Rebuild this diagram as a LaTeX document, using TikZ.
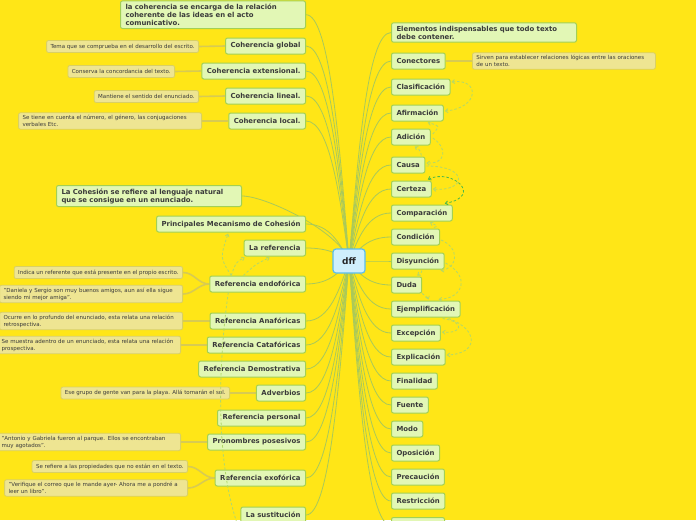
\documentclass[tikz,border=0pt]{standalone}
\usepackage{fontspec}
\setmainfont{DejaVu Sans}
\usetikzlibrary{calc,arrows.meta}
\pgfdeclarelayer{bgl}\pgfdeclarelayer{edl}
\pgfsetlayers{bgl,edl,main}
\definecolor{bgy}{HTML}{FFE617}
\definecolor{nfill}{HTML}{E2F7B5}
\definecolor{nbord}{HTML}{A3D054}
\definecolor{notefill}{HTML}{EEE592}
\definecolor{notebord}{HTML}{D9D064}
\definecolor{edgec}{HTML}{A9C95A}
\definecolor{noteedge}{HTML}{D8CB52}
\definecolor{txt}{HTML}{3A3A3A}
\definecolor{dfill}{HTML}{CFEFFC}
\definecolor{dbord}{HTML}{5BBDEB}
\definecolor{dashA}{HTML}{B2D86A}
\definecolor{dashB}{HTML}{4DB848}
\tikzset{
  mnode/.style={draw=nbord, fill=nfill, line width=1pt, rounded corners=2pt, text=txt,
    font=\fontsize{6.9}{8}\selectfont\bfseries, inner xsep=5pt, inner ysep=3pt, minimum height=16pt, align=left},
  wide/.style={text width=175pt},
  notebox/.style={draw=notebord, fill=notefill, line width=0.8pt, rounded corners=2pt, text=txt,
    font=\fontsize{5.5}{7}\selectfont, inner xsep=4pt, inner ysep=2.5pt, minimum height=12pt, align=left},
  conn/.style={draw=edgec, line width=0.8pt},
  nconn/.style={draw=noteedge, line width=1.6pt},
  dsh/.style={draw=dashA, line width=0.8pt, dash pattern=on 2.5pt off 2pt, -{Straight Barb[length=2.5pt,width=4pt]}},
  dshB/.style={draw=dashB, line width=0.8pt, dash pattern=on 2.5pt off 2pt, {Straight Barb[length=2.5pt,width=4pt]}-{Straight Barb[length=2.5pt,width=4pt]}},
}
\newcommand\lconn[1]{\draw[conn] (#1.east) .. controls +(24,0) and ($(dff.center |- #1.east)!0.55!(dff.center)+(-9,0)$) .. (dff.center);}
\newcommand\rconn[1]{\draw[conn] (#1.west) .. controls +(-24,0) and ($(dff.center |- #1.west)!0.55!(dff.center)+(9,0)$) .. (dff.center);}
\begin{document}
\begin{tikzpicture}[x=1pt,y=-1pt]
\begin{pgfonlayer}{bgl}
\fill[bgy] (0,0) rectangle (696,520);
\end{pgfonlayer}
\useasboundingbox (0,0) rectangle (696,520);

% central
\node[draw=dbord, fill=dfill, line width=1.2pt, rounded corners=3pt, minimum width=32pt, minimum height=24pt,
  font=\fontsize{9}{10}\selectfont\bfseries, text=black!85] (dff) at (349,261) {dff};

% left main nodes
\node[mnode, wide, anchor=south east] (coh) at (306,29) {la coherencia se encarga de la relación\\coherente de las ideas en el acto\\comunicativo.};
\node[mnode, anchor=east] (cg) at (306,46) {Coherencia global};
\node[mnode, anchor=east] (ce) at (306,71) {Coherencia extensional.};
\node[mnode, anchor=east] (cl) at (306,96) {Coherencia lineal.};
\node[mnode, anchor=east] (cloc) at (306,121) {Coherencia local.};
\node[mnode, wide, anchor=east] (cohes) at (242,196) {La Cohesión se refiere al lenguaje natural\\que se consigue en un enunciado.};
\node[mnode, anchor=east] (pmc) at (306,224) {Principales Mecanismo de Cohesión};
\node[mnode, anchor=east] (lref) at (306,248) {La referencia};
\node[mnode, anchor=east] (endo) at (306,284) {Referencia endofórica};
\node[mnode, anchor=east] (ana) at (306,321) {Referencia Anafóricas};
\node[mnode, anchor=east] (cata) at (306,345) {Referencia Catafóricas};
\node[mnode, anchor=east] (demo) at (306,369) {Referencia Demostrativa};
\node[mnode, anchor=east] (adv) at (306,393) {Adverbios};
\node[mnode, anchor=east] (pers) at (306,418) {Referencia personal};
\node[mnode, anchor=east] (pos) at (306,442) {Pronombres posesivos};
\node[mnode, anchor=east] (exo) at (306,478) {Referencia exofórica};
\node[mnode, anchor=east] (sust) at (306,515) {La sustitución};

% left notes
\node[notebox, anchor=east] (n1) at (199,46.5) {Tema que se comprueba en el desarrollo del escrito.};
\node[notebox, anchor=east] (n2) at (175,71.5) {Conserva la concordancia del texto.};
\node[notebox, anchor=east] (n3) at (199,96.5) {Mantiene el sentido del enunciado.};
\node[notebox, wide, anchor=east] (n4) at (202,121) {Se tiene en cuenta el número, el género, las conjugaciones\\verbales Etc.};
\node[notebox, anchor=east] (n5) at (183,272.5) {Indica un referente que está presente en el propio escrito.};
\node[notebox, wide, anchor=east] (n6) at (183,294) {"Daniela y Sergio son muy buenos amigos, aun así ella sigue\\siendo mi mejor amiga".};
\node[notebox, wide, anchor=east] (n7) at (183,321) {Ocurre en lo profundo del enunciado, esta relata una relación\\retrospectiva.};
\node[notebox, wide, anchor=east] (n8) at (181,345) {Se muestra adentro de un enunciado, esta relata una relación\\prospectiva.};
\node[notebox, anchor=east] (n9) at (230,393) {Ese grupo de gente van para la playa. Allá tomarán el sol.};
\node[notebox, wide, anchor=east] (n10) at (181,442) {"Antonio y Gabriela fueron al parque. Ellos se encontraban\\muy agotados".};
\node[notebox, anchor=east] (n11) at (188,466.5) {Se refiere a las propiedades que no están en el texto.};
\node[notebox, wide, anchor=east] (n12) at (188,488) {"Verifique el correo que le mande ayer- Ahora me a pondré a\\leer un libro".};

% right nodes
\node[mnode, wide, anchor=west] (elem) at (391,32.5) {Elementos indispensables que todo texto\\debe contener.};
\node[mnode, anchor=west] (conec) at (391,61) {Conectores};
\node[mnode, anchor=west] (clas) at (391,87) {Clasificación};
\node[mnode, anchor=west] (afir) at (391,113) {Afirmación};
\node[mnode, anchor=west] (adic) at (391,137) {Adición};
\node[mnode, anchor=west] (causa) at (391,165) {Causa};
\node[mnode, anchor=west] (cert) at (391,189) {Certeza};
\node[mnode, anchor=west] (comp) at (391,213) {Comparación};
\node[mnode, anchor=west] (cond) at (391,237) {Condición};
\node[mnode, anchor=west] (disy) at (391,261) {Disyunción};
\node[mnode, anchor=west] (duda) at (391,285) {Duda};
\node[mnode, anchor=west] (ejem) at (391,309) {Ejemplificación};
\node[mnode, anchor=west] (excep) at (391,333) {Excepción};
\node[mnode, anchor=west] (expl) at (391,357) {Explicación};
\node[mnode, anchor=west] (fin) at (391,381) {Finalidad};
\node[mnode, anchor=west] (fue) at (391,405) {Fuente};
\node[mnode, anchor=west] (modo) at (391,429) {Modo};
\node[mnode, anchor=west] (opo) at (391,453) {Oposición};
\node[mnode, anchor=west] (prec) at (391,477) {Precaución};
\node[mnode, anchor=west] (rest) at (391,501) {Restricción};
\node[mnode, anchor=north west, minimum width=53pt] (extra) at (391,517) {};
\node[notebox, wide, anchor=west] (nr1) at (472,61) {Sirven para establecer relaciones lógicas entre las oraciones\\de un texto.};

\begin{pgfonlayer}{edl}
\foreach \n in {coh,cg,ce,cl,cloc,cohes,pmc,lref,endo,ana,cata,demo,adv,pers,pos,exo,sust} {\lconn{\n}}
\foreach \n in {elem,conec,clas,afir,adic,causa,cert,comp,cond,disy,duda,ejem,excep,expl,fin,fue,modo,opo,prec,rest,extra} {\rconn{\n}}
% note connectors
\draw[nconn] (n1.east) -- (cg.west);
\draw[nconn] (n2.east) -- (ce.west);
\draw[nconn] (n3.east) -- (cl.west);
\draw[nconn] (n4.east) -- (cloc.west);
\draw[nconn] (n5.east) to[out=0,in=180] (endo.west);
\draw[nconn] (n6.east) to[out=0,in=180] (endo.west);
\draw[nconn] (n7.east) -- (ana.west);
\draw[nconn] (n8.east) -- (cata.west);
\draw[nconn] (n9.east) -- (adv.west);
\draw[nconn] (n10.east) -- (pos.west);
\draw[nconn] (n11.east) to[out=0,in=180] (exo.west);
\draw[nconn] (n12.east) to[out=0,in=180] (exo.west);
\draw[nconn] (conec.east) -- (nr1.west);
\end{pgfonlayer}

% dashed relations left
\coordinate (e1) at ($(endo.north west)+(22,0)$);
\coordinate (e2) at ($(endo.north west)+(34,0)$);
\coordinate (e3) at ($(endo.south west)+(19,0)$);
\coordinate (eend) at (238,526);
\draw[dsh] (e1) .. controls (220,258) .. ($(pmc.south west)+(72,1)$);
\draw[dsh] (e1) .. controls (236,262) .. ($(lref.south west)+(1,1)$);
\draw[dsh] (e2) .. controls (256,264) .. ($(lref.south west)+(26,1)$);
\draw[dsh, -] (e3) .. controls (216,380) and (218,470) .. (eend);

% dashed relations right
\draw[dsh, {Straight Barb[length=2.5pt,width=4pt]}-{Straight Barb[length=2.5pt,width=4pt]}] ($(clas.east)+(1,-5)$) .. controls (480,78) and (480,108) .. ($(afir.east)+(1,-2)$);
\draw[dsh] ($(adic.east)+(2,-3)$) .. controls (440,126) .. ($(afir.south east)+(-16,1)$);
\draw[dsh] ($(adic.east)+(2,1)$) .. controls (448,148) and (446,164) .. ($(causa.east)+(1,-2)$);
\draw[dsh] ($(causa.north east)+(-4,-1)$) .. controls (420,150) .. ($(adic.south east)+(-16,1)$);
\draw[dsh] ($(causa.east)+(1,1)$) .. controls (470,166) and (466,192) .. ($(cert.east)+(1,0)$);
\draw[dshB] ($(cert.north east)+(-4,-1)$) .. controls (452,168) and (484,196) .. ($(comp.north east)+(-8,-1)$);
\draw[dsh] ($(cond.north east)+(-6,-1)$) .. controls (438,226) .. ($(comp.south)+(8,1)$);
\draw[dsh] ($(cond.east)+(1,3)$) .. controls (460,248) and (458,268) .. ($(disy.south east)+(-4,1)$);
\draw[dsh] ($(disy.south)+(4,1)$) .. controls (422,272) .. ($(duda.north east)+(-5,-1)$);
\draw[dsh] ($(disy.east)+(1,2)$) .. controls (470,276) and (464,298) .. ($(ejem.north east)+(-22,-1)$);
\draw[dsh] ($(duda.south east)+(0,0)$) .. controls (428,298) .. ($(ejem.north east)+(-32,-1)$);
\draw[dsh] ($(ejem.south east)+(-18,1)$) .. controls (466,322) and (462,334) .. ($(excep.east)+(1,-1)$);
\draw[dsh] ($(ejem.south east)+(-12,1)$) .. controls (480,330) and (478,354) .. ($(expl.east)+(1,-2)$);
\end{tikzpicture}
\end{document}
